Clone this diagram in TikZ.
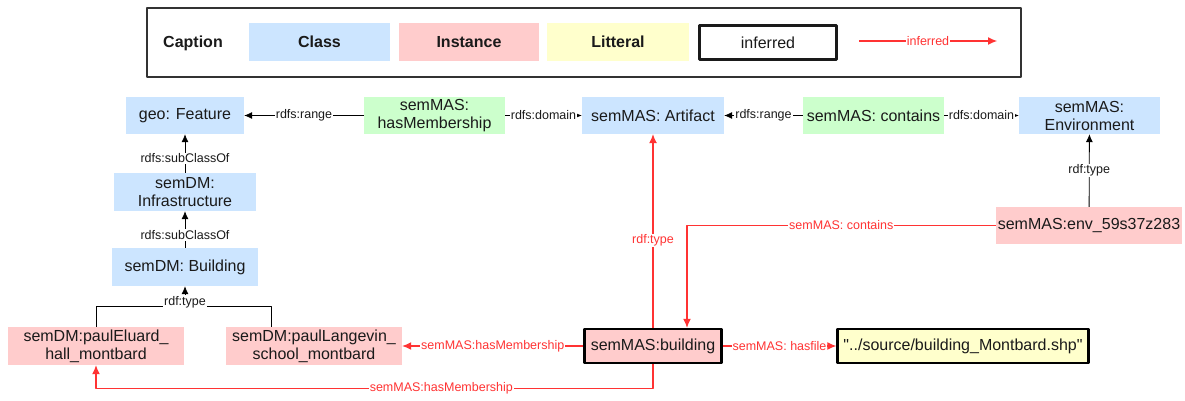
\documentclass[tikz,border=0pt]{standalone}
\usepackage{fontspec}
\setmainfont{Liberation Sans}
\usepackage{tikz}
\usetikzlibrary{arrows.meta,positioning}
\definecolor{kgClass}{HTML}{CCE5FF}
\definecolor{kgInstance}{HTML}{FFCCCC}
\definecolor{kgProperty}{HTML}{CCFFCC}
\definecolor{kgLiteral}{HTML}{FFFFCC}
\definecolor{kgInk}{HTML}{1A1A1A}
\definecolor{kgRed}{HTML}{FF3333}
\definecolor{kgFrame}{HTML}{333333}
\tikzset{
  kg diagram/.style={font=\fontsize{16}{18}\selectfont, text=kgInk,
    line join=round},
  kg box/.style={align=center, inner sep=2pt, minimum height=37pt},
  kg class/.style={kg box, fill=kgClass},
  kg instance/.style={kg box, fill=kgInstance},
  kg property/.style={kg box, fill=kgProperty},
  kg literal/.style={kg box, fill=kgLiteral},
  kg strong/.style={draw=black, line width=2.5pt},
  kg title/.style={font=\fontsize{16}{18}\selectfont\bfseries},
  kg arrow/.style={-{Latex[length=8pt,width=7pt]}, draw=black, line width=0.8pt},
  kg line/.style={draw=black, line width=0.8pt},
  kg inferred/.style={-{Latex[length=9pt,width=8pt]}, draw=kgRed, line width=1.1pt},
  kg label/.style={font=\fontsize{12.5}{14}\selectfont, fill=white, inner sep=1pt},
  kg inferred label/.style={kg label, text=kgRed}
}
\begin{document}
\begin{tikzpicture}[kg diagram,x=1pt,y=-1pt]
\useasboundingbox (0,0) rectangle (1185,401);
% caption
\node[draw=kgFrame, line width=1.5pt, minimum width=874pt, minimum height=69pt] (caption) at (584,42.5) {};
\node[kg title] (captiontitle) at (193,43) {Caption};
\node[kg class, kg title, minimum width=141pt, minimum height=38pt] (legendclass) at (319.5,42) {Class};
\node[kg instance, kg title, minimum width=140pt, minimum height=38pt] (legendinstance) at (469,42) {Instance};
\node[kg literal, kg title, minimum width=142pt, minimum height=38pt] (legendliteral) at (618,42) {Litteral};
\node[kg box, kg strong, draw=kgInk, minimum width=137pt, minimum height=34pt] (legendinferred) at (768,42.5) {inferred};
\coordinate (legendfrom) at (859,41);
\coordinate (legendto) at (997,41);
\draw[kg inferred] (legendfrom) -- node[kg inferred label] {inferred} (legendto);

% classes and properties
\node[kg class, minimum width=118pt] (geo) at (185,115.5) {geo: Feature};
\node[kg property, minimum width=141pt] (hasmember) at (434.5,115.5) {semMAS:\\hasMembership};
\node[kg class, minimum width=142pt] (artifact) at (653,115.5) {semMAS: Artifact};
\node[kg property, minimum width=141pt] (contains) at (873.5,115.5) {semMAS: contains};
\node[kg class, minimum width=141pt] (environment) at (1089.5,115.5) {semMAS:\\Environment};
\node[kg class, minimum width=142pt, minimum height=38pt] (infra) at (185,192) {semDM:\\Infrastructure};
\node[kg class, minimum width=146pt, minimum height=38pt] (bclass) at (185,267) {semDM: Building};

% instances
\node[kg instance, minimum width=186pt] (env) at (1089,225.5) {semMAS:env\_59s37z283};
\node[kg instance, minimum width=176pt, minimum height=38pt] (eluard) at (96,346) {semDM:paulEluard\_\\hall\_montbard};
\node[kg instance, minimum width=176pt, minimum height=38pt] (langevin) at (314,346) {semDM:paulLangevin\_\\school\_montbard};
\node[kg instance, kg strong, minimum width=137pt, minimum height=34pt] (bldg) at (653,346) {semMAS:building};
\node[kg literal, kg strong, minimum width=251pt, minimum height=34pt] (shpfile) at (963,346) {\textquotedbl../source/building\_Montbard.shp\textquotedbl};

% schema links
\draw[kg arrow] (hasmember) -- node[kg label] {rdfs:range} (geo);
\draw[kg arrow] (hasmember) -- node[kg label] {rdfs:domain} (artifact);
\draw[kg arrow] (contains) -- node[kg label] {rdfs:range} (artifact);
\draw[kg arrow] (contains) -- node[kg label] {rdfs:domain} (environment);
\draw[kg arrow] (infra) -- node[kg label, pos=0.38] {rdfs:subClassOf} (geo);
\draw[kg arrow] (bclass) -- node[kg label, pos=0.35] {rdfs:subClassOf} (infra);
\draw[kg arrow] (env) -- node[kg label] {rdf:type} (environment);
\coordinate (typejoin) at (185,306);
\draw[kg line] ([xshift=-43pt]langevin.north) |- (typejoin);
\draw[kg arrow] (eluard.north) |- (typejoin) -- node[kg label, pos=0.2] {rdf:type} (bclass.south);

% inferred links
\draw[kg inferred] (bldg.north) -- node[kg inferred label, pos=0.45] {rdf:type} (artifact.south);
\draw[kg inferred] (env.west) -| node[kg inferred label, pos=0.25] {semMAS: contains} ([xshift=34pt]bldg.north);
\draw[kg inferred] (bldg) -- node[kg inferred label] {semMAS:hasMembership} (langevin);
\draw[kg inferred] (bldg.south) -- ++(0,24) -| node[kg inferred label, pos=0.19] {semMAS:hasMembership} (eluard.south);
\draw[kg inferred] (bldg) -- node[kg inferred label] {semMAS: hasfile} (shpfile);
\end{tikzpicture}
\end{document}
